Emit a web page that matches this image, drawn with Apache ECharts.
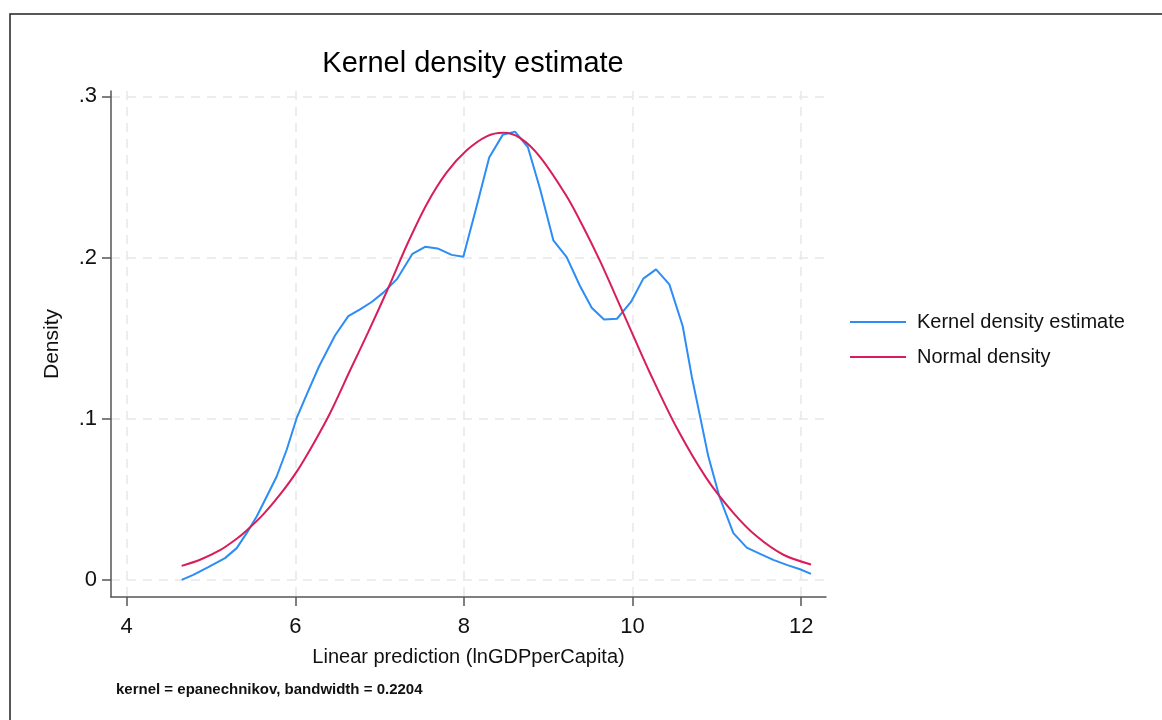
<!DOCTYPE html>
<html>
<head>
<meta charset="utf-8">
<title>Kernel density estimate</title>
<script src="https://cdn.jsdelivr.net/npm/echarts@6/dist/echarts.min.js"></script>
<style>
  html, body { margin: 0; padding: 0; background: #fff; }
  #chart { width: 1162px; height: 720px; }
</style>
</head>
<body>
<div id="chart"></div>
<script>
// Kernel density estimate of the linear prediction (lnGDPperCapita)
const kdeX = [4.652, 4.790, 4.968, 5.166, 5.305, 5.423, 5.542, 5.661, 5.779, 5.898,
              6.017, 6.145, 6.281, 6.471, 6.629, 6.768, 6.906, 7.044, 7.203, 7.390,
              7.539, 7.687, 7.855, 7.993, 8.152, 8.300, 8.460, 8.606, 8.760, 8.903,
              9.061, 9.219, 9.377, 9.516, 9.662, 9.816, 9.982, 10.128, 10.279, 10.437,
              10.595, 10.702, 10.801, 10.899, 11.030, 11.196, 11.355, 11.513, 11.670, 11.829,
              11.987, 12.117];
const kdeY = [0.0002, 0.0033, 0.0081, 0.0137, 0.0199, 0.0292, 0.0395, 0.0519, 0.0643, 0.0809,
              0.1006, 0.1163, 0.1325, 0.1517, 0.1637, 0.1679, 0.1725, 0.1783, 0.1865, 0.2024,
              0.2067, 0.2057, 0.2017, 0.2006, 0.2320, 0.2621, 0.2761, 0.2781, 0.2683, 0.2427,
              0.2107, 0.2003, 0.1824, 0.1689, 0.1617, 0.1621, 0.1725, 0.1870, 0.1927, 0.1834,
              0.1576, 0.1265, 0.1016, 0.0768, 0.0519, 0.0292, 0.0202, 0.0163, 0.0126, 0.0095,
              0.0068, 0.0039];

// Normal density with the same mean and standard deviation
const normX = [4.652, 4.870, 5.107, 5.305, 5.423, 5.620, 5.818, 6.017, 6.214, 6.412,
               6.649, 6.862, 7.123, 7.321, 7.559, 7.796, 8.033, 8.270, 8.467, 8.665,
               8.902, 9.219, 9.416, 9.614, 9.784, 10.010, 10.207, 10.524, 10.880, 11.196,
               11.473, 11.789, 12.117];
const normY = [0.0089, 0.0127, 0.0186, 0.0257, 0.0308, 0.0408, 0.0530, 0.0673, 0.0845, 0.1035,
               0.1300, 0.1535, 0.1835, 0.2075, 0.2331, 0.2528, 0.2665, 0.2752, 0.2774, 0.2742,
               0.2625, 0.2380, 0.2190, 0.1980, 0.1782, 0.1515, 0.1285, 0.0945, 0.0630, 0.0418,
               0.0272, 0.0158, 0.0098];

const xTicks = [4, 6, 8, 10, 12];
const yTicks = [0, 0.1, 0.2, 0.3];
const yTickLabels = ['0', '.1', '.2', '.3'];

const seriesNames = ['Kernel density estimate', 'Normal density'];
const titleText = 'Kernel density estimate';
const xTitle = 'Linear prediction (lnGDPperCapita)';
const yTitle = 'Density';
const noteText = 'kernel = epanechnikov, bandwidth = 0.2204';

const FONT = "'Liberation Sans', Arial, sans-serif";
const AXIS_COLOR = '#555555';
const GRID_COLOR = '#e8e8e8';

const pair = (xs, ys) => xs.map((x, i) => [x, ys[i]]);

const chart = echarts.init(document.getElementById('chart'), null, { renderer: 'canvas' });

chart.setOption({
  backgroundColor: '#ffffff',
  animation: false,
  title: {
    text: titleText,
    left: 468,
    top: 44,
    textAlign: 'center',
    textStyle: { fontFamily: FONT, fontSize: 29, fontWeight: 'normal', color: '#000' }
  },
  legend: {
    orient: 'vertical',
    left: 845,
    top: 307,
    icon: 'rect',
    itemWidth: 56,
    itemHeight: 2,
    itemGap: 15,
    data: seriesNames,
    textStyle: { fontFamily: FONT, fontSize: 20, color: '#111', padding: [0, 0, 0, 6] }
  },
  grid: { left: 111, right: 336, top: 91, bottom: 123, containLabel: false },
  xAxis: {
    type: 'value',
    min: 3.814,
    max: 12.295,
    name: xTitle,
    nameLocation: 'middle',
    nameGap: 50,
    nameTextStyle: { fontFamily: FONT, fontSize: 20, color: '#111' },
    axisLine: { show: true, onZero: false, lineStyle: { color: AXIS_COLOR, width: 1.5 } },
    axisTick: { show: true, length: 9, customValues: xTicks, lineStyle: { color: AXIS_COLOR, width: 1.5 } },
    axisLabel: {
      customValues: xTicks,
      margin: 19,
      fontFamily: FONT, fontSize: 22, color: '#111'
    },
    splitLine: { show: true, lineStyle: { color: GRID_COLOR, width: 1.5, type: [9, 7] } }
  },
  yAxis: {
    type: 'value',
    min: -0.0104,
    max: 0.3033,
    name: yTitle,
    nameLocation: 'middle',
    nameGap: 48,
    nameTextStyle: { fontFamily: FONT, fontSize: 21, color: '#111' },
    axisLine: { show: true, onZero: false, lineStyle: { color: AXIS_COLOR, width: 1.5 } },
    axisTick: { show: true, length: 9, customValues: yTicks, lineStyle: { color: AXIS_COLOR, width: 1.5 } },
    axisLabel: {
      customValues: yTicks,
      margin: 14,
      fontFamily: FONT, fontSize: 22, color: '#111',
      formatter: v => {
        const i = yTicks.findIndex(t => Math.abs(t - v) < 1e-9);
        return i >= 0 ? yTickLabels[i] : '';
      }
    },
    splitLine: { show: true, lineStyle: { color: GRID_COLOR, width: 1.5, type: [9, 7] } }
  },
  series: [
    {
      name: seriesNames[0],
      type: 'line',
      data: pair(kdeX, kdeY),
      showSymbol: false,
      symbol: 'none',
      smooth: false,
      lineStyle: { color: '#2b8df5', width: 2 },
      itemStyle: { color: '#2b8df5' },
      z: 3
    },
    {
      name: seriesNames[1],
      type: 'line',
      data: pair(normX, normY),
      showSymbol: false,
      symbol: 'none',
      smooth: 0.3,
      lineStyle: { color: '#d81e58', width: 2 },
      itemStyle: { color: '#d81e58' },
      z: 4
    }
  ],
  graphic: [
    {
      type: 'rect',
      silent: true,
      shape: { x: 10, y: 14, width: 1300, height: 900 },
      style: { fill: null, stroke: '#222', lineWidth: 1.5 }
    },
    {
      type: 'text',
      left: 116,
      top: 682,
      silent: true,
      style: { text: noteText, fontFamily: FONT, fontSize: 15, fontWeight: 'bold', fill: '#111' }
    }
  ]
});
</script>
</body>
</html>
